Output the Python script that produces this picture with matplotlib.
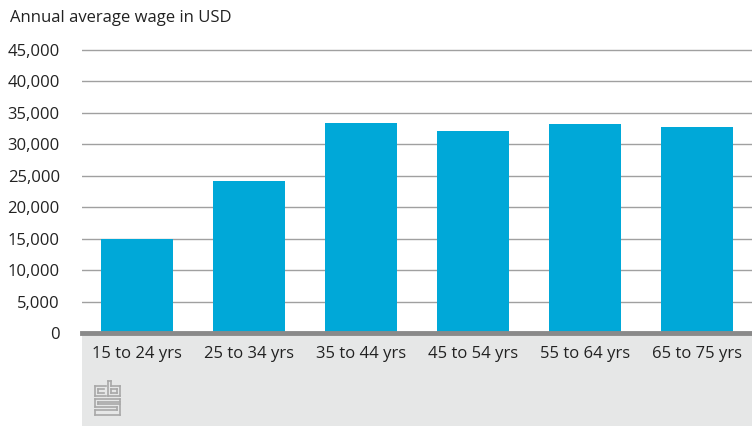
import matplotlib.pyplot as plt
from matplotlib.patches import Rectangle

ages = ["15 to 24 yrs", "25 to 34 yrs", "35 to 44 yrs", "45 to 54 yrs", "55 to 64 yrs", "65 to 75 yrs"]
wages = [15000, 24200, 33400, 32100, 33250, 32750]
yticks = [0, 5000, 10000, 15000, 20000, 25000, 30000, 35000, 40000, 45000]

plt.rcParams['font.family'] = ['Open Sans', 'DejaVu Sans']

W, H = 752, 426
fig = plt.figure(figsize=(W / 100, H / 100), dpi=100)

# grey footer band behind the category labels
fig.patches.append(Rectangle((82 / W, 0), 670 / W, 93 / H, transform=fig.transFigure,
                             facecolor="#e6e7e7", edgecolor="none", zorder=-1))

ax = fig.add_axes([82 / W, 93 / H, 670 / W, (333 - 43) / H])
ax.set_facecolor("none")
ax.bar(range(len(ages)), wages, width=0.643, color="#00a8d8", zorder=3)
ax.set_xlim(-0.49, len(ages) - 0.51)
ax.set_ylim(0, 46100)
ax.set_yticks(yticks)
ax.set_yticklabels([f"{v:,}" for v in yticks])
ax.set_xticks(range(len(ages)))
ax.set_xticklabels(ages)
ax.grid(axis="y", color="#a0a0a0", lw=1)
ax.set_axisbelow(True)
for s in ax.spines.values():
    s.set_visible(False)
ax.tick_params(axis="y", length=0, pad=16, labelsize=12, labelcolor="#222222")
ax.tick_params(axis="x", length=0, pad=9, labelsize=12, labelcolor="#222222")
ax.axhline(0, color="#8a8a8a", lw=3.5, zorder=4, clip_on=False)

fig.text(10 / W, 1 - 18 / H, "Annual average wage in USD", fontsize=12, color="#222222", va="center")

# simple cbs logo outline
lc = "#a8a8a8"
def seg(x0, y0, x1, y1):
    fig.add_artist(plt.Line2D([x0 / W, x1 / W], [1 - y0 / H, 1 - y1 / H], color=lc, lw=1.2))

seg(95, 386, 106, 386); seg(95, 386, 95, 396); seg(95, 396, 106, 396)
seg(98, 389, 104, 389); seg(98, 389, 98, 393); seg(98, 393, 104, 393)
seg(108, 381, 108, 396); seg(108, 396, 120, 396); seg(120, 396, 120, 386); seg(120, 386, 111, 386)
seg(111, 386, 111, 381); seg(111, 381, 108, 381)
seg(111, 389, 117, 389); seg(117, 389, 117, 393); seg(117, 393, 111, 393); seg(111, 393, 111, 389)
seg(120, 399, 95, 399); seg(95, 399, 95, 407); seg(95, 407, 117, 407); seg(117, 407, 117, 410)
seg(117, 410, 95, 410); seg(95, 410, 95, 415); seg(95, 415, 120, 415); seg(120, 415, 120, 404)
seg(120, 404, 98, 404); seg(98, 404, 98, 402); seg(98, 402, 120, 402); seg(120, 402, 120, 399)

fig.savefig("out.png", dpi=100)
